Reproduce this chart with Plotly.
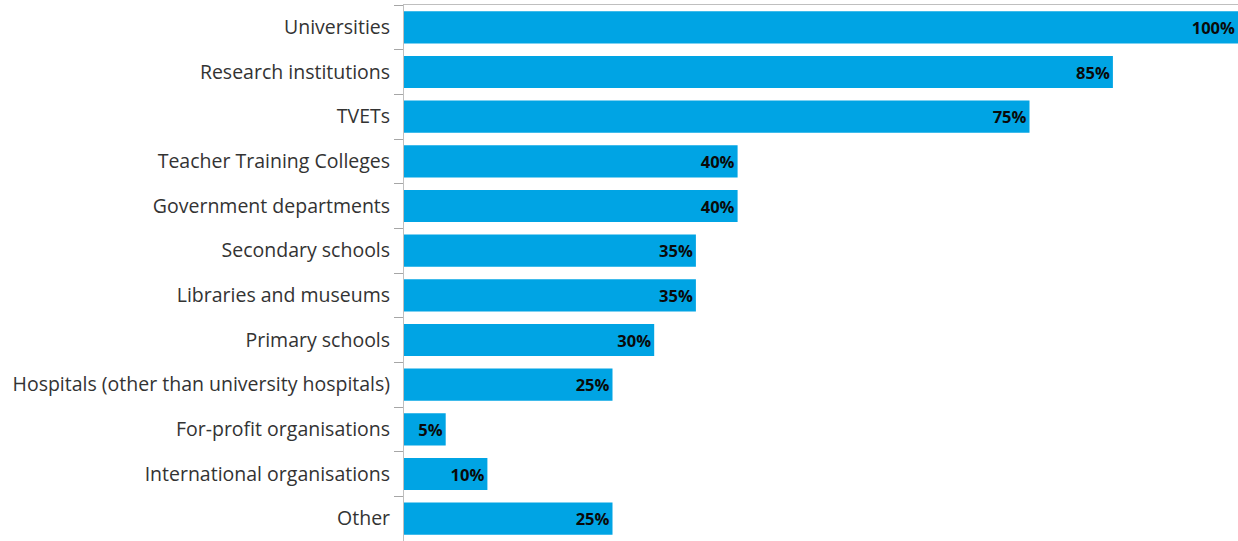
import plotly.graph_objects as go

categories = [
    "Universities",
    "Research institutions",
    "TVETs",
    "Teacher Training Colleges",
    "Government departments",
    "Secondary schools",
    "Libraries and museums",
    "Primary schools",
    "Hospitals (other than university hospitals)",
    "For-profit organisations",
    "International organisations",
    "Other",
]
values = [100, 85, 75, 40, 40, 35, 35, 30, 25, 5, 10, 25]
labels = [f"{v}%" for v in values]

fig = go.Figure(
    go.Bar(
        x=values,
        y=categories,
        orientation="h",
        marker=dict(color="#00A4E4", line=dict(width=0)),
        text=labels,
        textposition="inside",
        insidetextanchor="end",
        textangle=0,
        textfont=dict(family="Open Sans", size=16.5, color="#0a0a0a", weight="bold"),
        hoverinfo="skip",
    )
)

fig.update_layout(
    width=1238,
    height=541,
    margin=dict(l=404, r=0, t=5, b=0),
    paper_bgcolor="white",
    plot_bgcolor="white",
    bargap=0.28,
    showlegend=False,
    uniformtext=dict(mode="show", minsize=16.5),
    font=dict(family="Open Sans", size=19.5, color="#333333"),
)
fig.update_xaxes(
    range=[0, 100],
    side="top",
    showline=True,
    linecolor="#bfbfbf",
    linewidth=1,
    showgrid=False,
    zeroline=False,
    showticklabels=False,
    ticks="",
)
fig.update_yaxes(
    categoryorder="array",
    categoryarray=categories,
    autorange="reversed",
    showline=True,
    linecolor="#bfbfbf",
    linewidth=1,
    ticks="outside",
    tickson="boundaries",
    ticklen=9,
    tickcolor="#a6a6a6",
    ticklabelstandoff=9,
    showgrid=False,
    tickfont=dict(family="Open Sans", size=19.5, color="#333333"),
)

fig.write_html("out.html")
